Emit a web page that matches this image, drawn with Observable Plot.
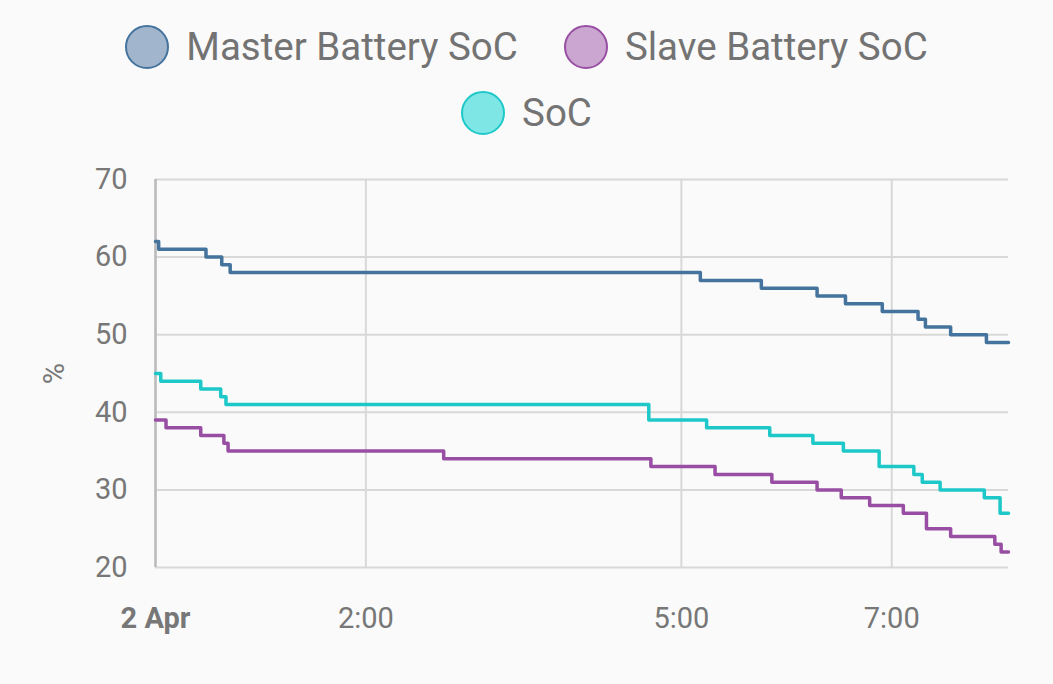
<!DOCTYPE html>
<html><head><meta charset="utf-8">
<script src="https://cdn.jsdelivr.net/npm/d3@7"></script>
<script src="https://cdn.jsdelivr.net/npm/@observablehq/plot@0.6"></script>
<style>
body{margin:0;background:#fafafa;font-family:Roboto,sans-serif;width:1053px;height:684px;overflow:hidden}
#legend{height:150px;position:relative;color:#737373;font-size:38.5px}
.row{position:absolute;left:0;right:0;display:flex;justify-content:center;gap:46px}
.item{display:flex;align-items:center;gap:17px}
.dot{width:44px;height:44px;border-radius:50%;border:2px solid;box-sizing:border-box}
</style></head><body>
<div id="legend"></div>
<div id="chart"></div>
<script>
const seriesNames = ["Master Battery SoC","Slave Battery SoC","SoC"];
const colors = ["#44739e","#984ea3","#1ec8c8"];
const fills = ["#a1b5cc","#caa6d1","#7fe6e6"];
const masterT = [0,0.03,0.48,0.63,0.71,5.18,5.76,6.29,6.56,6.91,7.25,7.32,7.56,7.90,8.11];
const masterV = [62,61,60,59,58,57,56,55,54,53,52,51,50,49,49];
const slaveT = [0,0.10,0.43,0.65,0.69,2.74,4.71,5.32,5.86,6.29,6.52,6.79,7.11,7.33,7.56,7.98,8.04,8.11];
const slaveV = [39,38,37,36,35,34,33,32,31,30,29,28,27,25,24,23,22,22];
const socT = [0,0.05,0.43,0.62,0.67,4.69,5.24,5.84,6.25,6.54,6.88,7.21,7.29,7.46,7.88,8.03,8.11];
const socV = [45,44,43,42,41,39,38,37,36,35,33,32,31,30,29,27,27];
const xTickHours = [0,2,5,7];
const xTickLabels = ["2 Apr","2:00","5:00","7:00"];
const yTicks = [20,30,40,50,60,70];

const base = Date.UTC(2024,3,2);
const toDate = h => new Date(base + h*3600000);
const mk = (T,V,s) => T.map((t,i)=>({t:toDate(t),v:V[i],s}));
const data = [...mk(masterT,masterV,seriesNames[0]),...mk(slaveT,slaveV,seriesNames[1]),...mk(socT,socV,seriesNames[2])];

const lg = document.getElementById("legend");
const rows = [[0,1],[2]];
rows.forEach((r,ri)=>{
  const row = document.createElement("div"); row.className="row"; row.style.top=(ri===0?24:90)+"px";
  r.forEach(i=>{
    row.innerHTML += `<div class="item"><div class="dot" style="background:${fills[i]};border-color:${colors[i]}"></div><span>${seriesNames[i]}</span></div>`;
  });
  lg.appendChild(row);
});

const xt = xTickHours.map(toDate);
const chart = Plot.plot({
  width:1053, height:534, marginLeft:155, marginRight:45, marginTop:29, marginBottom:117,
  style:{background:"transparent",fontFamily:"Roboto,sans-serif",fontSize:"29px",color:"#777"},
  x:{type:"utc",domain:[toDate(0),toDate(8.11)],ticks:xt,tickFormat:d=>xTickLabels[xt.findIndex(e=>+e===+d)],tickSize:0,tickPadding:40,label:null},
  y:{domain:[20,70],ticks:yTicks,tickSize:0,tickPadding:28,label:"%",labelArrow:"none",labelAnchor:"center",labelOffset:112},
  color:{domain:seriesNames,range:colors},
  marks:[
    Plot.ruleY(yTicks,{stroke:"#d8d8d8",strokeWidth:2}),
    Plot.ruleX(xt,{stroke:"#d8d8d8",strokeWidth:2}),
    Plot.ruleX([toDate(0)],{stroke:"#bbb",strokeWidth:2.5}),
    Plot.line(data,{x:"t",y:"v",z:"s",stroke:"s",curve:"step-after",strokeWidth:3.5})
  ]
});
chart.querySelectorAll("g[aria-label='x-axis tick label'] text").forEach((t,i)=>{ if(i===0){t.style.fontWeight="bold";} });
chart.querySelectorAll("g[aria-label='y-axis label'] text").forEach(t=>{ t.textContent="%"; });
document.getElementById("chart").appendChild(chart);
</script></body></html>
